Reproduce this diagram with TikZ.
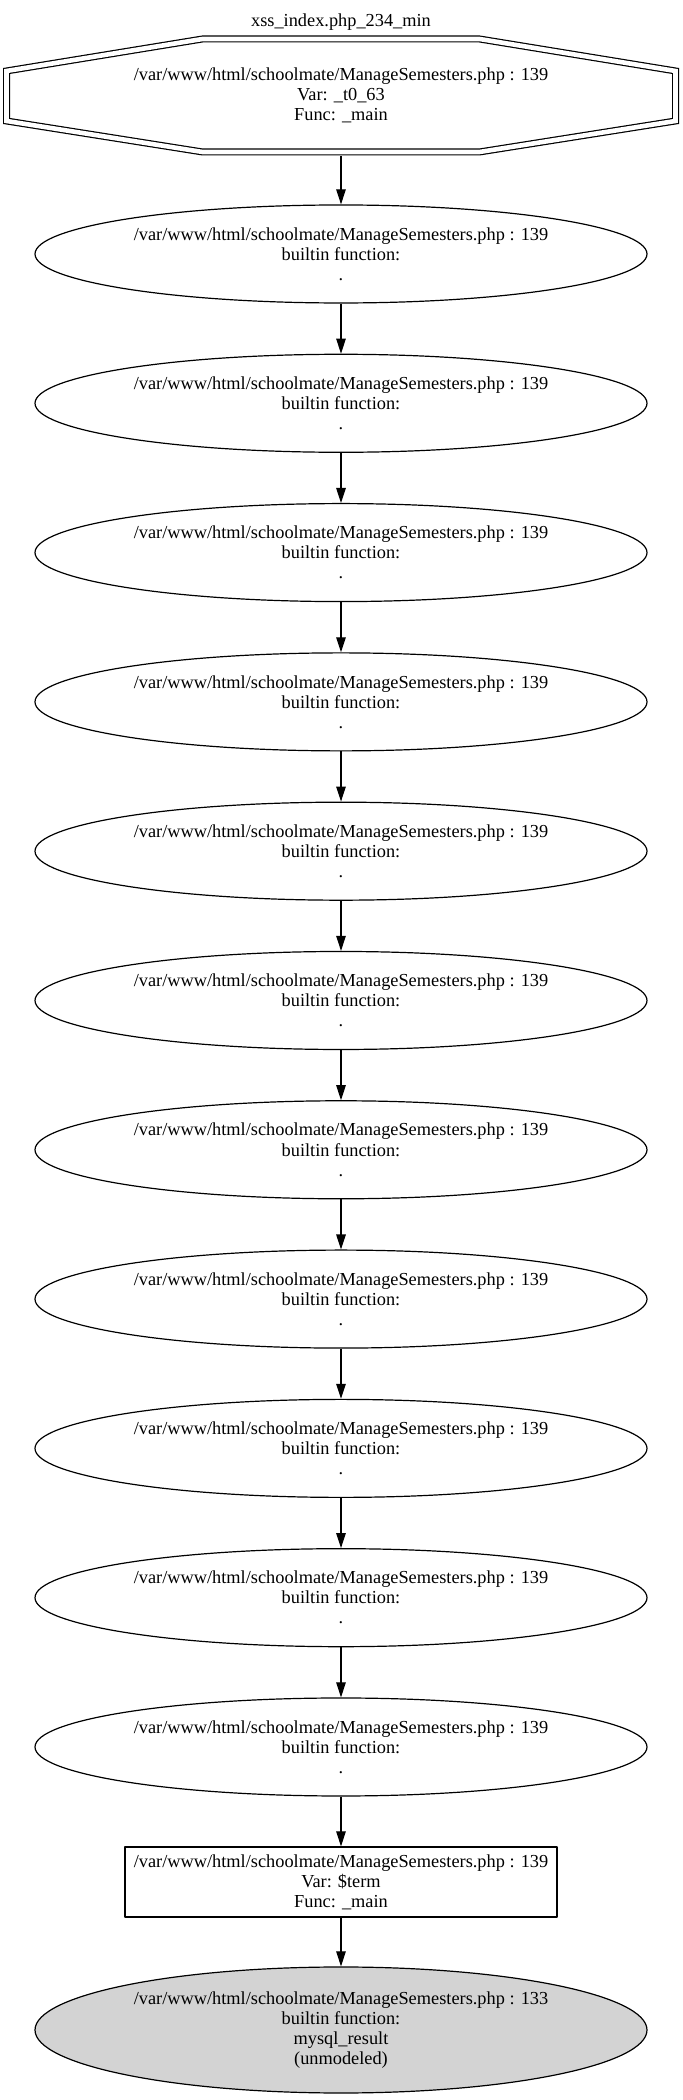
\documentclass[tikz,border=0pt]{standalone}
\usepackage{fontspec}
\setmainfont{Liberation Serif}
\usetikzlibrary{arrows.meta,shapes.geometric}
\definecolor{gvgray}{HTML}{D3D3D3}

\begin{document}
\begin{tikzpicture}[>={Triangle[length=15bp,width=9.5bp]},line join=bevel,line width=1.2bp,
  every node/.style={font=\fontsize{18.4}{20.1}\selectfont,align=center,inner sep=0pt},
  fnnode/.style={draw=black,ellipse,minimum width=612bp,minimum height=98bp},
  varbox/.style={draw=black,rectangle,minimum width=432bp,minimum height=70bp},
  sinknode/.style={draw=black,ellipse,fill=gvgray,minimum width=612bp,minimum height=126bp},
  srcnode/.style={rectangle,minimum width=676bp,minimum height=120bp},
  dblline/.style={draw=black,double,double distance=4.6bp,line join=miter}]
%%
\useasboundingbox (0bp,0bp) rectangle (683bp,2100bp);
\node (title) at (341bp,2078bp) {xss\_index.php\_234\_min};
  \node (src) at (341bp,2004.5bp) [srcnode] {/var/www/html/schoolmate/ManageSemesters.php : 139\\Var: \_t0\_63\\Func: \_main};
  \draw [dblline,shift={(src.center)}] (-138.5bp,56.5bp) -- (138.5bp,56.5bp) -- (334.5bp,24.5bp) -- (334.5bp,-25.5bp)
    -- (138.5bp,-56.5bp) -- (-138.5bp,-56.5bp) -- (-334.5bp,-25.5bp) -- (-334.5bp,24.5bp) -- cycle;
  \node (fn1) at (341bp,1846bp) [fnnode] {/var/www/html/schoolmate/ManageSemesters.php : 139\\builtin function:\\.};
  \node (fn2) at (341bp,1696.7bp) [fnnode] {/var/www/html/schoolmate/ManageSemesters.php : 139\\builtin function:\\.};
  \node (fn3) at (341bp,1547.4bp) [fnnode] {/var/www/html/schoolmate/ManageSemesters.php : 139\\builtin function:\\.};
  \node (fn4) at (341bp,1398.1bp) [fnnode] {/var/www/html/schoolmate/ManageSemesters.php : 139\\builtin function:\\.};
  \node (fn5) at (341bp,1248.8bp) [fnnode] {/var/www/html/schoolmate/ManageSemesters.php : 139\\builtin function:\\.};
  \node (fn6) at (341bp,1099.5bp) [fnnode] {/var/www/html/schoolmate/ManageSemesters.php : 139\\builtin function:\\.};
  \node (fn7) at (341bp,950.2bp) [fnnode] {/var/www/html/schoolmate/ManageSemesters.php : 139\\builtin function:\\.};
  \node (fn8) at (341bp,800.9bp) [fnnode] {/var/www/html/schoolmate/ManageSemesters.php : 139\\builtin function:\\.};
  \node (fn9) at (341bp,651.6bp) [fnnode] {/var/www/html/schoolmate/ManageSemesters.php : 139\\builtin function:\\.};
  \node (fn10) at (341bp,502.3bp) [fnnode] {/var/www/html/schoolmate/ManageSemesters.php : 139\\builtin function:\\.};
  \node (fn11) at (341bp,353bp) [fnnode] {/var/www/html/schoolmate/ManageSemesters.php : 139\\builtin function:\\.};
  \node (term) at (341bp,218bp) [varbox] {/var/www/html/schoolmate/ManageSemesters.php : 139\\Var: \$term\\Func: \_main};
  \node (mysql_result) at (341bp,70bp) [sinknode] {/var/www/html/schoolmate/ManageSemesters.php : 133\\builtin function:\\mysql\_result\\(unmodeled)};
  \draw [->,solid] (src) -- (fn1);
  \draw [->,solid] (fn1) -- (fn2);
  \draw [->,solid] (fn2) -- (fn3);
  \draw [->,solid] (fn3) -- (fn4);
  \draw [->,solid] (fn4) -- (fn5);
  \draw [->,solid] (fn5) -- (fn6);
  \draw [->,solid] (fn6) -- (fn7);
  \draw [->,solid] (fn7) -- (fn8);
  \draw [->,solid] (fn8) -- (fn9);
  \draw [->,solid] (fn9) -- (fn10);
  \draw [->,solid] (fn10) -- (fn11);
  \draw [->,solid] (fn11) -- (term);
  \draw [->,solid] (term) -- (mysql_result);
%
\end{tikzpicture}
\end{document}
